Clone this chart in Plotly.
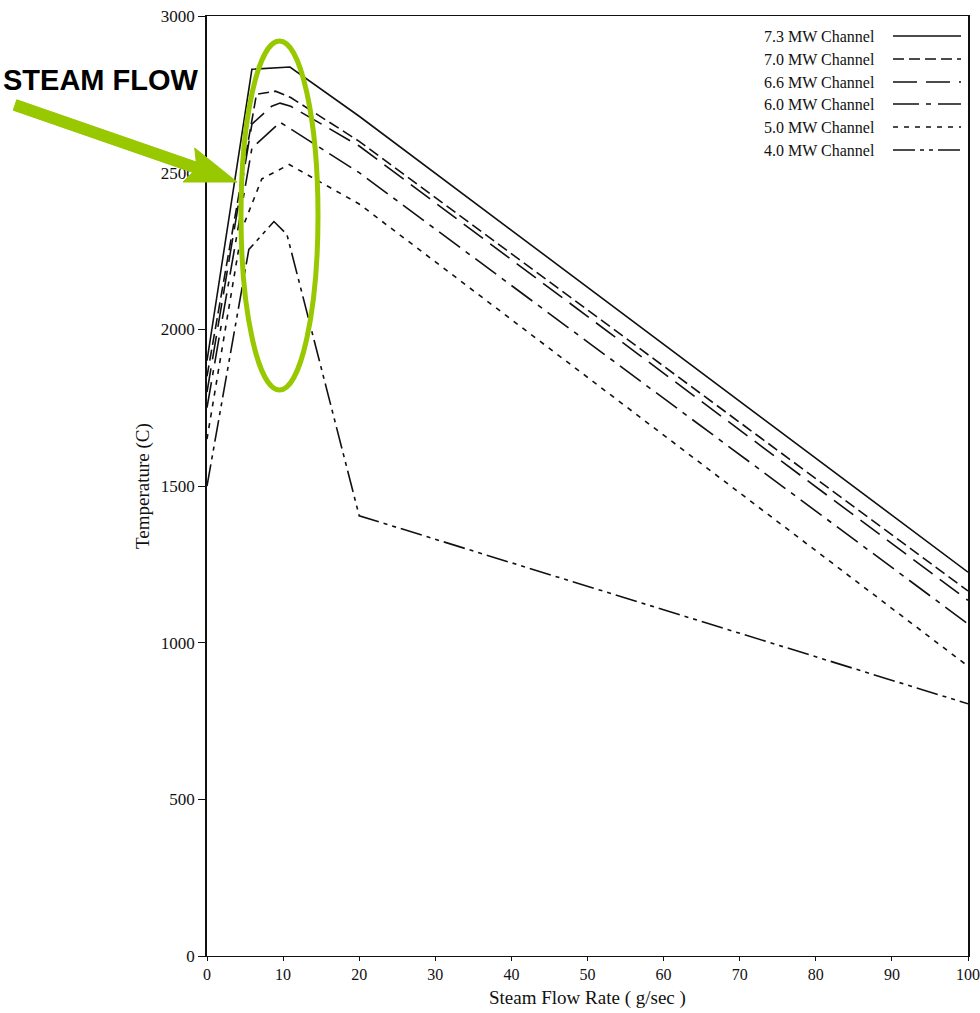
import plotly.graph_objects as go

# Steam flow rate (g/s) and peak cladding temperature (C) for each channel power
flow_73 = [0, 5.9, 10.9, 20, 100]
temp_73 = [1900, 2830, 2837, 2680, 1225]

flow_70 = [0, 6.5, 9.0, 11.0, 20, 100]
temp_70 = [1850, 2750, 2760, 2740, 2600, 1165]

flow_66 = [0, 5.9, 8.5, 9.6, 11.0, 20, 100]
temp_66 = [1800, 2655, 2712, 2722, 2712, 2585, 1135]

flow_60 = [0, 5.9, 9.6, 20, 100]
temp_60 = [1750, 2578, 2661, 2500, 1060]

flow_50 = [0, 4.6, 7.2, 10.8, 20, 100]
temp_50 = [1650, 2320, 2480, 2526, 2400, 925]

flow_40 = [0, 5.5, 8.8, 10.5, 20, 100]
temp_40 = [1500, 2255, 2344, 2303, 1405, 805]

series_names = ["7.3 MW Channel", "7.0 MW Channel", "6.6 MW Channel",
                "6.0 MW Channel", "5.0 MW Channel", "4.0 MW Channel"]
series_x = [flow_73, flow_70, flow_66, flow_60, flow_50, flow_40]
series_y = [temp_73, temp_70, temp_66, temp_60, temp_50, temp_40]
dash_styles = ["solid", "11px,5px", "24px,9px", "26px,7px,5px,7px",
               "5px,6px", "22px,5px,4px,5px,4px,5px"]

x_ticks = [0, 10, 20, 30, 40, 50, 60, 70, 80, 90, 100]
y_ticks = [0, 500, 1000, 1500, 2000, 2500, 3000]

W, H = 980, 1013
L, R, T, B = 207, 968, 16, 956
SERIF = "Liberation Serif, Times New Roman, serif"
GREEN = "#97C800"
INK = "#111111"


def px(x):
    return (x - L) / (R - L)


def py(y):
    return (B - y) / (B - T)


fig = go.Figure()
for name, xs, ys, dash in zip(series_names, series_x, series_y, dash_styles):
    fig.add_trace(go.Scatter(x=xs, y=ys, mode="lines", name=name,
                             line=dict(color=INK, width=1.6, dash=dash),
                             showlegend=False))

shapes = []
annotations = []

# legend box entries: label on the left, line sample on the right
row_y = [36, 59, 82, 104, 127, 150]
for name, dash, ry in zip(series_names, dash_styles, row_y):
    annotations.append(dict(x=px(762), y=py(ry), xref="paper", yref="paper",
                            text=name, showarrow=False, xanchor="left",
                            yanchor="middle",
                            font=dict(family=SERIF, size=16, color=INK)))
    shapes.append(dict(type="line", xref="paper", yref="paper",
                       x0=px(893), x1=px(961), y0=py(ry), y1=py(ry),
                       line=dict(color=INK, width=1.6, dash=dash)))

# axis titles
annotations.append(dict(x=0.5, y=py(998), xref="paper", yref="paper",
                        text="Steam Flow Rate ( g/sec )", showarrow=False,
                        xanchor="center", yanchor="middle",
                        font=dict(family=SERIF, size=19, color=INK)))
annotations.append(dict(x=px(143), y=0.5, xref="paper", yref="paper",
                        text="Temperature (C)", showarrow=False, textangle=-90,
                        xanchor="center", yanchor="middle",
                        font=dict(family=SERIF, size=19, color=INK)))

# call-out text
annotations.append(dict(x=px(1), y=py(80), xref="paper", yref="paper",
                        text="<b>STEAM FLOW</b>", showarrow=False,
                        xanchor="left", yanchor="middle",
                        font=dict(family="Liberation Sans, Arial, sans-serif",
                                  size=29, color="#000000")))

# highlight ellipse around the peak region
shapes.append(dict(type="circle", xref="paper", yref="paper",
                   x0=px(241), x1=px(318), y0=py(390), y1=py(41),
                   line=dict(color=GREEN, width=5), layer="above"))

# green arrow pointing at the peak region
arrow_pts = [(16.8, 99.8), (196.3, 162.0), (194.7, 148.0), (237.0, 182.0),
             (183.0, 182.0), (192.7, 172.4), (13.2, 110.2)]
path = "M " + " L ".join(f"{px(a):.5f},{py(b):.5f}" for a, b in arrow_pts) + " Z"
shapes.append(dict(type="path", xref="paper", yref="paper", path=path,
                   fillcolor=GREEN, line=dict(color=GREEN, width=1),
                   layer="above"))

fig.update_layout(
    width=W, height=H,
    margin=dict(l=L, r=W - R, t=T, b=H - B, autoexpand=False),
    paper_bgcolor="white", plot_bgcolor="white",
    showlegend=False,
    shapes=shapes, annotations=annotations,
    xaxis=dict(range=[0, 100], tickvals=x_ticks, ticks="outside", ticklen=4,
               tickcolor=INK, showline=True, linecolor=INK, linewidth=1.4,
               mirror=True, showgrid=False, zeroline=False,
               tickfont=dict(family=SERIF, size=16, color=INK)),
    yaxis=dict(range=[0, 3000], tickvals=y_ticks, ticks="outside", ticklen=7,
               tickcolor=INK, showline=True, linecolor=INK, linewidth=1.6,
               mirror=True, showgrid=False, zeroline=False, ticklabelstandoff=0,
               tickfont=dict(family=SERIF, size=17, color=INK)),
)

fig.write_html("out.html")
